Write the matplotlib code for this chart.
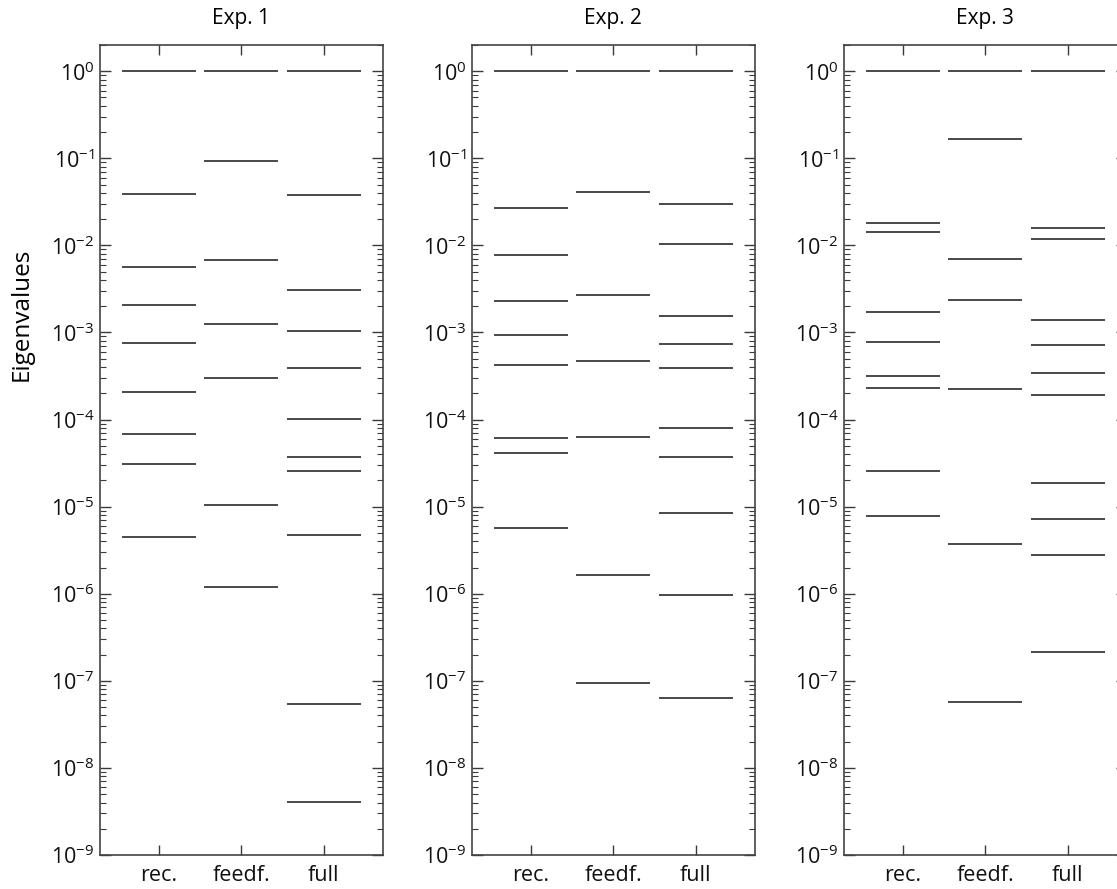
import numpy as np
import matplotlib
matplotlib.use('Agg')
from matplotlib import pyplot as plt
from matplotlib.ticker import LogLocator, FuncFormatter, NullFormatter

plt.rcParams['font.family'] = ['Open Sans', 'DejaVu Sans']

# Conditions (columns in each panel) and panel titles
conditions = ['rec.', 'feedf.', 'full']
titles = ['Exp. 1', 'Exp. 2', 'Exp. 3']
decades = np.arange(-9, 1)

# Eigenvalues
exp1_rec = [1.0, 3.9e-2, 5.66e-3, 2.07e-3, 7.6e-4, 2.06e-4, 6.9e-5, 3.12e-5, 4.45e-6]
exp1_feedf = [1.0, 9.3e-2, 6.87e-3, 1.25e-3, 3.0e-4, 1.05e-5, 1.21e-6]
exp1_full = [1.0, 3.83e-2, 3.08e-3, 1.04e-3, 3.94e-4, 1.02e-4, 3.76e-5, 2.59e-5,
             4.69e-6, 5.4e-8, 4.1e-9]

exp2_rec = [1.0, 2.69e-2, 7.83e-3, 2.32e-3, 9.45e-4, 4.27e-4, 6.15e-5, 4.17e-5, 5.69e-6]
exp2_feedf = [1.0, 4.15e-2, 2.70e-3, 4.67e-4, 6.37e-5, 1.63e-6, 9.45e-8]
exp2_full = [1.0, 2.97e-2, 1.04e-2, 1.54e-3, 7.33e-4, 3.92e-4, 8.07e-5, 3.69e-5,
             8.53e-6, 9.6e-7, 6.36e-8]

exp3_rec = [1.0, 1.83e-2, 1.416e-2, 1.74e-3, 7.85e-4, 3.19e-4, 2.28e-4, 2.55e-5, 7.88e-6]
exp3_feedf = [1.0, 1.68e-1, 7.0e-3, 2.34e-3, 2.23e-4, 3.76e-6, 5.67e-8]
exp3_full = [1.0, 1.60e-2, 1.186e-2, 1.38e-3, 7.13e-4, 3.46e-4, 1.93e-4, 1.89e-5,
             7.22e-6, 2.77e-6, 2.13e-7]

experiments = [
    [exp1_rec, exp1_feedf, exp1_full],
    [exp2_rec, exp2_feedf, exp2_full],
    [exp3_rec, exp3_feedf, exp3_full],
]

W, H = 1117, 889
fig = plt.figure(figsize=(W / 100, H / 100), dpi=100)

lefts = [100, 472, 844]   # axes left edges in pixels
ax_w = 282.7
ax_bot, ax_top = 855, 45

line_col = '#3a3a3a'
for k, (left, title, cols) in enumerate(zip(lefts, titles, experiments)):
    ax = fig.add_axes([left / W, 1 - ax_bot / H, ax_w / W, (ax_bot - ax_top) / H])
    for i, vals in enumerate(cols, start=1):
        ax.hlines(vals, i - 0.45, i + 0.45, color=line_col, lw=1.3)

    ax.set_yscale('log')
    ax.set_ylim(1e-9, 2.0)
    ax.set_xlim(0.28, 3.72)
    ax.set_xticks([1, 2, 3])
    ax.set_xticklabels(conditions, fontsize=15.5)

    ax.set_yticks(10.0 ** decades)
    ax.yaxis.set_minor_locator(LogLocator(base=10, subs=np.arange(2, 10), numticks=100))
    ax.yaxis.set_major_formatter(FuncFormatter(
        lambda v, p: r'$\mathregular{10^{%d}}$' % int(round(np.log10(v)))))
    ax.yaxis.set_minor_formatter(NullFormatter())

    ax.tick_params(which='both', direction='in', top=True, right=True, colors=line_col,
                   labelcolor='#111111')
    ax.tick_params(axis='y', which='major', length=8, width=1.0, labelsize=15.5, pad=4)
    ax.tick_params(axis='y', which='minor', length=4, width=0.8)
    ax.tick_params(axis='x', which='major', length=7, width=1.0, pad=7)
    ax.tick_params(axis='x', which='minor', length=0)

    for s in ax.spines.values():
        s.set_color('#444444')
        s.set_linewidth(1.2)

    ax.set_title(title, fontsize=15, pad=15)
    if k == 0:
        ax.set_ylabel('Eigenvalues', fontsize=17.5)
        ax.yaxis.set_label_coords(-0.235, 0.667)

fig.savefig('out.png', dpi=100)
